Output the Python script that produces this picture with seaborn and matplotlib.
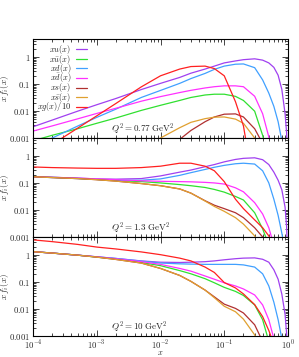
import numpy as np
import pandas as pd
import matplotlib
matplotlib.use("Agg")
import matplotlib.pyplot as plt
import seaborn as sns
from matplotlib.ticker import LogLocator, FixedLocator, FixedFormatter, NullFormatter

# ---------------- data ----------------
X = [1e-4, 2e-4, 5e-4, 1e-3, 2e-3, 5e-3, 1e-2, 2e-2, 3e-2, 5e-2, 7e-2, 0.1,
     0.15, 0.2, 0.3, 0.4, 0.5, 0.6, 0.7, 0.8, 0.9, 0.95, 0.98]

labels = [r"$xu(x)$", r"$x\bar{u}(x)$", r"$xd(x)$", r"$x\bar{d}(x)$",
          r"$xs(x)$", r"$x\bar{s}(x)$", r"$xg(x)/10$"]
colors = ["#a040f0", "#30e030", "#40a0ff", "#ff30ff", "#b03030", "#e0a030", "#ff2020"]
q2_labels = [r"$Q^2 = 0.77\ \mathrm{GeV}^2$", r"$Q^2 = 1.3\ \mathrm{GeV}^2$",
             r"$Q^2 = 10\ \mathrm{GeV}^2$"]

# Q^2 = 0.77 GeV^2
u1 = [0.0026, 0.0046, 0.0098, 0.017, 0.029, 0.062, 0.105, 0.174, 0.25, 0.355, 0.457, 0.60,
      0.71, 0.79, 0.85, 0.76, 0.60, 0.41, 0.21, 0.063, 0.0079, 0.0016, 0.00025]
ubar1 = [0.00079, 0.00126, 0.0022, 0.0035, 0.0055, 0.0105, 0.0162, 0.0245, 0.0316, 0.039, 0.0417, 0.0417,
         0.0347, 0.0245, 0.0098, 0.00126, 0.00016, 1e-5, 1e-5, 1e-5, 1e-5, 1e-5, 1e-5]
d1 = [0.0004, 0.001, 0.00275, 0.0058, 0.0117, 0.0316, 0.0575, 0.105, 0.158, 0.245, 0.347, 0.457,
      0.537, 0.55, 0.40, 0.141, 0.0457, 0.0148, 0.004, 0.0008, 0.0001, 1e-5, 1e-5]
dbar1 = [0.0018, 0.0028, 0.0051, 0.0081, 0.0126, 0.023, 0.034, 0.048, 0.058, 0.071, 0.079, 0.085,
         0.085, 0.079, 0.035, 0.0079, 0.0011, 0.00016, 1e-5, 1e-5, 1e-5, 1e-5, 1e-5]
s1 = [1e-5, 1e-5, 1e-5, 1e-5, 1e-5, 1e-5, 0.00025, 0.00089, 0.0019, 0.004, 0.006, 0.0076,
      0.0078, 0.006, 0.0022, 0.00063, 1e-5, 1e-5, 1e-5, 1e-5, 1e-5, 1e-5, 1e-5]
sbar1 = [1e-5, 1e-5, 1e-5, 1e-5, 1e-5, 0.0003, 0.001, 0.0024, 0.0038, 0.0052, 0.0059, 0.006,
         0.005, 0.0035, 0.001, 0.00025, 1e-5, 1e-5, 1e-5, 1e-5, 1e-5, 1e-5, 1e-5]
g1 = [0.0002, 0.00058, 0.0023, 0.0066, 0.019, 0.078, 0.20, 0.355, 0.44, 0.457, 0.37, 0.20,
      0.022, 0.0028, 1e-5, 1e-5, 1e-5, 1e-5, 1e-5, 1e-5, 1e-5, 1e-5, 1e-5]

# Q^2 = 1.3 GeV^2
u2 = [0.17, 0.162, 0.151, 0.141, 0.138, 0.145, 0.182, 0.251, 0.30, 0.398, 0.479, 0.603,
      0.741, 0.813, 0.851, 0.724, 0.479, 0.251, 0.126, 0.056, 0.0126, 0.0025, 0.0003]
ubar2 = [0.17, 0.162, 0.148, 0.135, 0.123, 0.112, 0.10, 0.087, 0.079, 0.068, 0.0575, 0.0457,
         0.0316, 0.0234, 0.0079, 0.002, 0.0005, 0.0001, 1e-5, 1e-5, 1e-5, 1e-5, 1e-5]
d2 = [0.17, 0.158, 0.145, 0.135, 0.126, 0.126, 0.141, 0.191, 0.24, 0.316, 0.38, 0.447,
      0.513, 0.537, 0.50, 0.282, 0.10, 0.025, 0.0063, 0.0014, 0.0003, 0.0001, 1e-5]
dbar2 = [0.17, 0.162, 0.151, 0.141, 0.132, 0.12, 0.115, 0.112, 0.11, 0.105, 0.10, 0.091,
         0.066, 0.047, 0.0186, 0.0071, 0.0022, 0.0005, 0.0001, 1e-5, 1e-5, 1e-5, 1e-5]
s2 = [0.17, 0.158, 0.145, 0.132, 0.117, 0.095, 0.079, 0.060, 0.042, 0.022, 0.015, 0.0112,
      0.0079, 0.0052, 0.0022, 0.001, 0.0004, 0.0001, 1e-5, 1e-5, 1e-5, 1e-5, 1e-5]
sbar2 = [0.17, 0.158, 0.145, 0.132, 0.117, 0.095, 0.079, 0.060, 0.042, 0.0214, 0.0135, 0.0089,
         0.0052, 0.003, 0.0011, 0.0003, 0.0001, 1e-5, 1e-5, 1e-5, 1e-5, 1e-5, 1e-5]
g2 = [0.39, 0.37, 0.355, 0.347, 0.347, 0.37, 0.417, 0.537, 0.537, 0.417, 0.282, 0.112,
      0.025, 0.0112, 0.0043, 0.0022, 0.0011, 0.0005, 0.0001, 1e-5, 1e-5, 1e-5, 1e-5]

# Q^2 = 10 GeV^2
u3 = [1.32, 1.17, 0.98, 0.85, 0.74, 0.60, 0.537, 0.525, 0.537, 0.562, 0.60, 0.66,
      0.724, 0.76, 0.776, 0.69, 0.537, 0.282, 0.126, 0.0355, 0.0063, 0.00126, 0.00016]
ubar3 = [1.32, 1.17, 0.98, 0.83, 0.71, 0.525, 0.40, 0.263, 0.20, 0.132, 0.093, 0.063,
         0.0447, 0.0316, 0.0141, 0.004, 0.00063, 0.0001, 1e-5, 1e-5, 1e-5, 1e-5, 1e-5]
d3 = [1.32, 1.17, 0.98, 0.85, 0.74, 0.59, 0.50, 0.468, 0.457, 0.447, 0.447, 0.447,
      0.447, 0.427, 0.355, 0.20, 0.071, 0.0178, 0.004, 0.0008, 0.0001, 1e-5, 1e-5]
dbar3 = [1.32, 1.17, 0.98, 0.85, 0.72, 0.562, 0.447, 0.316, 0.251, 0.166, 0.126, 0.093,
         0.071, 0.055, 0.033, 0.0141, 0.004, 0.0008, 0.0001, 1e-5, 1e-5, 1e-5, 1e-5]
s3 = [1.32, 1.17, 0.98, 0.83, 0.68, 0.50, 0.316, 0.174, 0.105, 0.05, 0.028, 0.0151,
      0.0105, 0.0071, 0.0026, 0.00063, 0.0001, 1e-5, 1e-5, 1e-5, 1e-5, 1e-5, 1e-5]
sbar3 = [1.32, 1.17, 0.98, 0.83, 0.68, 0.50, 0.316, 0.174, 0.105, 0.05, 0.026, 0.0126,
         0.0079, 0.0042, 0.0011, 0.00025, 1e-5, 1e-5, 1e-5, 1e-5, 1e-5, 1e-5, 1e-5]
g3 = [3.6, 3.1, 2.45, 1.95, 1.66, 1.29, 1.02, 0.76, 0.60, 0.355, 0.224, 0.095,
      0.06, 0.036, 0.0145, 0.0052, 0.0016, 0.0005, 0.0001, 1e-5, 1e-5, 1e-5, 1e-5]

panels = [
    [u1, ubar1, d1, dbar1, s1, sbar1, g1],
    [u2, ubar2, d2, dbar2, s2, sbar2, g2],
    [u3, ubar3, d3, dbar3, s3, sbar3, g3],
]

y_ticks = [1e-3, 1e-2, 1e-1, 1]
y_ticklabels = [r"$0.001$", r"$0.01$", r"$0.1$", r"$1$"]
x_ticks = [1e-4, 1e-3, 1e-2, 1e-1, 1]
x_ticklabels = [r"$10^{-4}$", r"$10^{-3}$", r"$10^{-2}$", r"$10^{-1}$", r"$10^{0}$"]

# ---------------- style ----------------
sns.set_theme(style="ticks")
plt.rcParams["font.family"] = ["DejaVu Serif"]
plt.rcParams["mathtext.fontset"] = "cm"
plt.rcParams["axes.linewidth"] = 0.8
plt.rcParams["axes.edgecolor"] = "black"

fig = plt.figure(figsize=(2.99, 3.57), dpi=100)
W, H = 299.0, 357.0
left, right = 33 / W, 288 / W
tops = [39, 138, 237]
ph = 99

palette = dict(zip(labels, colors))

for i, vals in enumerate(panels):
    ax = fig.add_axes([left, 1 - (tops[i] + ph) / H, right - left, ph / H])
    ax.set_xscale("log")
    ax.set_yscale("log")
    frames = []
    for lab, v in zip(labels, vals):
        frames.append(pd.DataFrame({"x": X, "f": v, "parton": lab}))
    df = pd.concat(frames, ignore_index=True)
    sns.lineplot(data=df, x="x", y="f", hue="parton", hue_order=labels,
                 palette=palette, estimator=None, sort=False, linewidth=0.9,
                 legend=(i == 0), ax=ax)
    ax.set_xlim(1e-4, 1)
    ax.set_ylim(1e-3, 4.6)

    ax.yaxis.set_major_locator(FixedLocator(y_ticks))
    ax.yaxis.set_major_formatter(FixedFormatter(y_ticklabels))
    ax.yaxis.set_minor_locator(LogLocator(base=10, subs=np.arange(2, 10), numticks=20))
    ax.yaxis.set_minor_formatter(NullFormatter())
    ax.xaxis.set_major_locator(FixedLocator(x_ticks))
    ax.xaxis.set_minor_locator(LogLocator(base=10, subs=np.arange(2, 10), numticks=20))
    ax.xaxis.set_minor_formatter(NullFormatter())
    if i == 2:
        ax.xaxis.set_major_formatter(FixedFormatter(x_ticklabels))
        ax.set_xlabel(r"$x$", fontsize=6, labelpad=-2)
    else:
        ax.xaxis.set_major_formatter(NullFormatter())
        ax.set_xlabel("")
    ax.tick_params(which="both", direction="in", top=True, right=True,
                   labelsize=6.3, width=0.6, pad=2)
    ax.tick_params(which="major", length=4)
    ax.tick_params(which="minor", length=2)
    ax.set_ylabel(r"$x\,f_i(x)$", fontsize=6.5)
    ax.yaxis.set_label_coords(-0.088, 0.5)
    for sp in ax.spines.values():
        sp.set_linewidth(0.8)
        sp.set_color("black")

    ax.text(0.305, 0.09, q2_labels[i], transform=ax.transAxes, fontsize=6.5,
            ha="left", va="center")

    if i == 0:
        handles, labs = ax.get_legend_handles_labels()
        ax.legend(handles, labs, loc="upper left", bbox_to_anchor=(0.0, 1.0),
                  markerfirst=False, frameon=False, fontsize=6, handlelength=1.3,
                  handletextpad=0.6, labelspacing=-0.42, borderaxespad=0.0,
                  borderpad=0.5)

fig.savefig("out.png", dpi=100)
